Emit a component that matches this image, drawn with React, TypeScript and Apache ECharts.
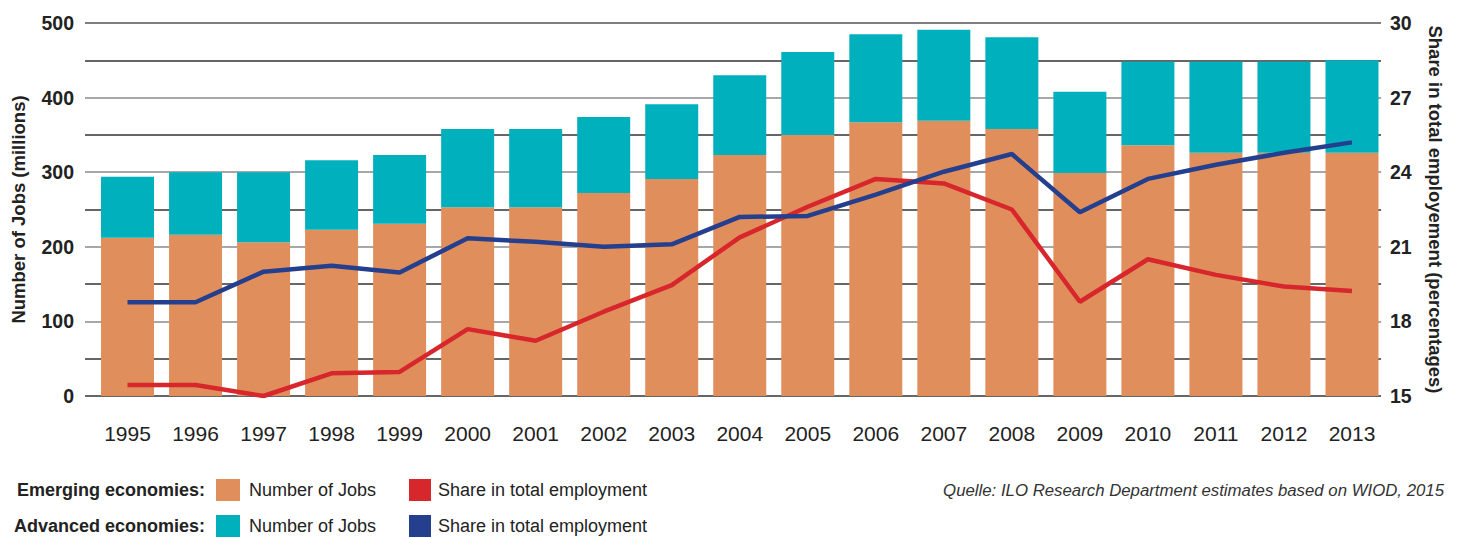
import React, { useEffect, useRef } from "react";
import * as echarts from "echarts";

const years = ["1995","1996","1997","1998","1999","2000","2001","2002","2003","2004","2005","2006","2007","2008","2009","2010","2011","2012","2013"];
const emergingJobs = [212, 216, 206, 223, 231, 253, 253, 272, 291, 323, 350, 367, 369, 358, 299, 336, 326, 326, 326];
const totalJobs = [294, 300, 300, 316, 323, 358, 358, 374, 391, 430, 461, 485, 491, 481, 408, 448, 448, 448, 450];
const advancedJobs = totalJobs.map((t, i) => t - emergingJobs[i]);
const emergingShare = [15.44, 15.44, 15.0, 15.91, 15.97, 17.69, 17.22, 18.39, 19.46, 21.38, 22.61, 23.73, 23.55, 22.5, 18.79, 20.5, 19.87, 19.4, 19.22];
const advancedShare = [18.77, 18.77, 20.0, 20.24, 19.97, 21.34, 21.2, 21.0, 21.1, 22.2, 22.24, 23.1, 24.02, 24.73, 22.39, 23.73, 24.3, 24.78, 25.2];

const ORANGE = "#e08f5c";
const TEAL = "#00b0bd";
const RED = "#d7262c";
const BLUE = "#253f8f";
const TXT = "#222222";
const FONT = "'Liberation Sans', Arial, Helvetica, sans-serif";

export default function App() {
  const ref = useRef<HTMLDivElement>(null);
  useEffect(() => {
    if (!ref.current) return;
    const chart = echarts.init(ref.current, null, { renderer: "svg" });
    const gridColors = ["#333333", "#333333", "#8a8a8a", "#333333", "#8a8a8a", "#333333", "#8a8a8a", "#333333", "#8a8a8a", "#333333", "#555555"];
    const isMult = (v: number, m: number) => Math.abs(v / m - Math.round(v / m)) < 1e-6;
    const option: any = {
      animation: false,
      textStyle: { fontFamily: FONT },
      grid: [
        { left: 85, right: 82, top: 23, bottom: 142 },
        { left: 93.5, right: 77, top: 23, bottom: 142 },
      ],
      xAxis: [
        { type: "value", gridIndex: 0, show: false, min: 0, max: 1 },
        {
          type: "category",
          gridIndex: 1,
          data: years,
          axisLine: { show: false },
          axisTick: { show: false },
          axisLabel: { color: TXT, fontSize: 21, fontFamily: FONT, margin: 27 },
        },
      ],
      yAxis: [
        {
          type: "value",
          gridIndex: 0,
          min: 0,
          max: 500,
          interval: 50,
          axisLine: { show: false },
          axisTick: { show: false },
          axisLabel: {
            color: TXT,
            fontSize: 19.5,
            fontWeight: "bold",
            fontFamily: FONT,
            margin: 11,
            formatter: (v: number) => (isMult(v, 100) ? String(v) : ""),
          },
          splitLine: { show: true, lineStyle: { color: gridColors, width: 1.6 } },
        },
        {
          type: "value",
          gridIndex: 0,
          position: "right",
          min: 15,
          max: 30,
          interval: 1.5,
          axisLine: { show: false },
          axisTick: { show: false },
          axisLabel: {
            color: TXT,
            fontSize: 19.5,
            fontWeight: "bold",
            fontFamily: FONT,
            margin: 9,
            formatter: (v: number) => (isMult(v, 3) ? String(Math.round(v)) : ""),
          },
          splitLine: { show: false },
        },
        { type: "value", gridIndex: 1, min: 0, max: 500, show: false, splitLine: { show: false } },
        { type: "value", gridIndex: 1, min: 15, max: 30, show: false, splitLine: { show: false } },
      ],
      series: [
        {
          name: "Emerging Jobs",
          type: "bar",
          xAxisIndex: 1,
          yAxisIndex: 2,
          stack: "jobs",
          barWidth: 53,
          itemStyle: { color: ORANGE },
          data: emergingJobs,
        },
        {
          name: "Advanced Jobs",
          type: "bar",
          xAxisIndex: 1,
          yAxisIndex: 2,
          stack: "jobs",
          barWidth: 53,
          itemStyle: { color: TEAL },
          data: advancedJobs,
        },
        {
          name: "Emerging Share",
          type: "line",
          xAxisIndex: 1,
          yAxisIndex: 3,
          symbol: "none",
          lineStyle: { color: RED, width: 4.5 },
          data: emergingShare,
          z: 3,
        },
        {
          name: "Advanced Share",
          type: "line",
          xAxisIndex: 1,
          yAxisIndex: 3,
          symbol: "none",
          lineStyle: { color: BLUE, width: 4.5 },
          data: advancedShare,
          z: 4,
        },
      ],
      graphic: [
        {
          type: "text",
          x: 18.5,
          y: 209.5,
          rotation: Math.PI / 2,
          style: { text: "Number of Jobs (millions)", fill: TXT, font: `bold 18.5px ${FONT}`, textAlign: "center", textVerticalAlign: "middle" },
        },
        {
          type: "text",
          x: 1435,
          y: 209.5,
          rotation: -Math.PI / 2,
          style: { text: "Share in total employement (percentages)", fill: TXT, font: `bold 18.5px ${FONT}`, textAlign: "center", textVerticalAlign: "middle" },
        },
        { type: "text", x: 205, y: 490, style: { text: "Emerging economies:", fill: TXT, font: `bold 18px ${FONT}`, textAlign: "right", textVerticalAlign: "middle" } },
        { type: "text", x: 205, y: 526, style: { text: "Advanced economies:", fill: TXT, font: `bold 18px ${FONT}`, textAlign: "right", textVerticalAlign: "middle" } },
        { type: "rect", shape: { x: 216, y: 479, width: 24, height: 22 }, style: { fill: ORANGE } },
        { type: "rect", shape: { x: 216, y: 515, width: 24, height: 22 }, style: { fill: TEAL } },
        { type: "text", x: 249, y: 490, style: { text: "Number of Jobs", fill: TXT, font: `18px ${FONT}`, textVerticalAlign: "middle" } },
        { type: "text", x: 249, y: 526, style: { text: "Number of Jobs", fill: TXT, font: `18px ${FONT}`, textVerticalAlign: "middle" } },
        { type: "rect", shape: { x: 409, y: 479, width: 22, height: 22 }, style: { fill: RED } },
        { type: "rect", shape: { x: 409, y: 515, width: 22, height: 22 }, style: { fill: BLUE } },
        { type: "text", x: 438, y: 490, style: { text: "Share in total employment", fill: TXT, font: `18px ${FONT}`, textVerticalAlign: "middle" } },
        { type: "text", x: 438, y: 526, style: { text: "Share in total employment", fill: TXT, font: `18px ${FONT}`, textVerticalAlign: "middle" } },
        {
          type: "text",
          x: 1444,
          y: 490,
          style: { text: "Quelle: ILO Research Department estimates based on WIOD, 2015", fill: "#333333", font: `italic 16.8px ${FONT}`, textAlign: "right", textVerticalAlign: "middle" },
        },
      ],
    };
    chart.setOption(option);
    return () => chart.dispose();
  }, []);
  return <div ref={ref} style={{ position: "absolute", left: 0, top: 0, width: 1463, height: 538 }} />;
}
